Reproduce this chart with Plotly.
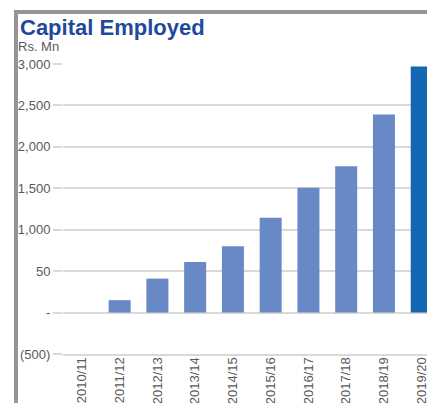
import plotly.graph_objects as go

# Capital employed by financial year (Rs. Mn)
years = ["2010/11", "2011/12", "2012/13", "2013/14", "2014/15",
         "2015/16", "2016/17", "2017/18", "2018/19", "2019/20"]
capital_employed = [0, 150, 410, 610, 800, 1145, 1505, 1765, 2390, 2970]

y_tick_values = [-500, 0, 500, 1000, 1500, 2000, 2500, 3000]
y_tick_labels = ["(500)", "-", "50", "1,000", "1,500", "2,000", "2,500", "3,000"]

W, H = 427, 403
L, R, T, B = 63, 0, 64, 49
PW, PH = W - L - R, H - T - B


def px_x(x):
    return (x - L) / PW


def px_y(y):
    return (H - B - y) / PH


BAR = "#6889c6"
BAR_LAST = "#1467b4"
GRID = "#d9d9d9"
TEXT = "#595959"
FRAME = "#959595"
FONT = "Liberation Sans, Arial, sans-serif"

colors = [BAR] * (len(years) - 1) + [BAR_LAST]

fig = go.Figure(
    go.Bar(x=years, y=capital_employed, marker=dict(color=colors, line=dict(width=0)))
)

fig.update_layout(
    width=W,
    height=H,
    margin=dict(l=L, r=R, t=T, b=B, pad=0, autoexpand=False),
    paper_bgcolor="white",
    plot_bgcolor="white",
    showlegend=False,
    bargap=0.417,
    font=dict(family=FONT, color=TEXT, size=13),
)

fig.update_xaxes(
    type="category",
    range=[-0.5, 9.14],
    automargin=False,
    tickangle=-90,
    ticklabelstandoff=-4,
    showgrid=False,
    showline=True,
    linecolor=GRID,
    linewidth=2,
    ticks="",
    tickfont=dict(family=FONT, size=13, color=TEXT),
)

fig.update_yaxes(
    range=[-500, 3000],
    automargin=False,
    tickvals=y_tick_values,
    ticktext=y_tick_labels,
    showgrid=True,
    gridcolor=GRID,
    gridwidth=2,
    zeroline=True,
    zerolinecolor=GRID,
    zerolinewidth=2,
    ticks="outside",
    ticklen=9,
    tickwidth=2,
    tickcolor=GRID,
    showline=False,
    tickfont=dict(family=FONT, size=13, color=TEXT),
)

# Panel frame: grey rule along the top and down the left side
fig.add_shape(type="rect", xref="paper", yref="paper",
              x0=px_x(14), x1=px_x(430), y0=px_y(14), y1=px_y(10),
              fillcolor=FRAME, line=dict(width=0), layer="above")
fig.add_shape(type="rect", xref="paper", yref="paper",
              x0=px_x(14), x1=px_x(18), y0=px_y(406), y1=px_y(10),
              fillcolor=FRAME, line=dict(width=0), layer="above")

fig.add_annotation(
    text="<b>Capital Employed</b>",
    xref="paper", yref="paper",
    x=px_x(18), y=px_y(28),
    xanchor="left", yanchor="middle",
    showarrow=False,
    font=dict(family=FONT, size=22, color="#1f4a9b"),
)
fig.add_annotation(
    text="Rs. Mn",
    xref="paper", yref="paper",
    x=px_x(16), y=px_y(46),
    xanchor="left", yanchor="middle",
    showarrow=False,
    font=dict(family=FONT, size=13, color=TEXT),
)

fig.write_html("out.html")
